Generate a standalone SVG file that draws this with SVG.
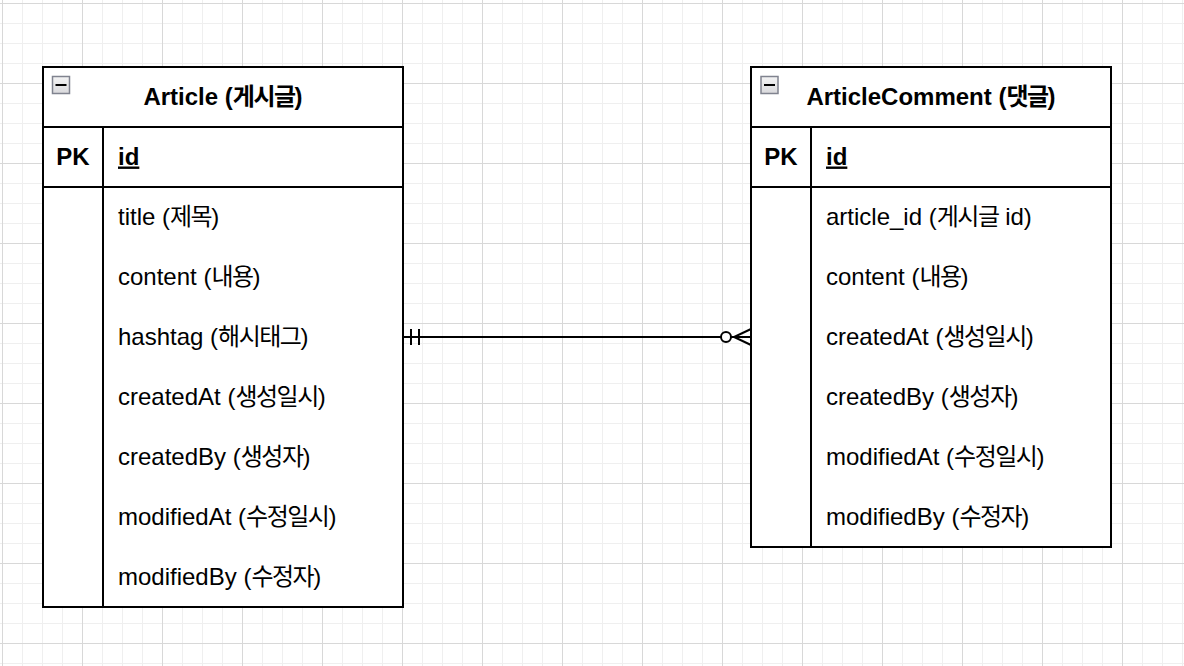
<svg xmlns="http://www.w3.org/2000/svg" width="1184" height="666" viewBox="0 0 1184 666">
<style>
.box{fill:#ffffff;stroke:#000000;stroke-width:2}
.ln{stroke:#000000;stroke-width:2;fill:none}
.t{font-family:"Liberation Sans","Noto Sans CJK KR",Arial,sans-serif;font-size:24px;fill:#000000}
.b{font-weight:bold}
.c{text-anchor:middle}
.k{letter-spacing:-1.5px}
.icon{fill:url(#ig);stroke:#80838f;stroke-width:1.5}
</style>
<defs>
<linearGradient id="ig" x1="0" y1="0" x2="0" y2="1">
<stop offset="0" stop-color="#f4f4f4"/>
<stop offset="1" stop-color="#d9d9dc"/>
</linearGradient>
<pattern id="grid" x="2" y="3" width="80" height="80" patternUnits="userSpaceOnUse">
<path d="M20.5 0V80M40.5 0V80M60.5 0V80M0 20.5H80M0 40.5H80M0 60.5H80" stroke="#efefef" stroke-width="1" fill="none"/>
<path d="M0.5 0V80M0 0.5H80" stroke="#d8d8d8" stroke-width="1" fill="none"/>
</pattern>
</defs>
<rect x="0" y="0" width="1184" height="666" fill="#ffffff"/>
<rect x="0" y="0" width="1184" height="666" fill="url(#grid)"/>

<g id="node-article">
<rect class="box" x="43" y="67" width="360" height="540"/>
<path class="ln" d="M43 127H403M43 187H403M103 127V607"/>
<rect class="icon" x="52.5" y="76.5" width="17" height="17"/>
<path d="M55.5 85H66.5" stroke="#000" stroke-width="2"/>
<text class="t b c" x="223" y="104.5">Article (<tspan class="k">게시글</tspan>)</text>
<text class="t b c" x="73" y="164.5">PK</text>
<text class="t b" x="118" y="164.5" text-decoration="underline">id</text>
<text class="t" x="118" y="224.5">title (<tspan class="k">제목</tspan>)</text>
<text class="t" x="118" y="284.5">content (<tspan class="k">내용</tspan>)</text>
<text class="t" x="118" y="344.5">hashtag (<tspan class="k">해시태그</tspan>)</text>
<text class="t" x="118" y="404.5">createdAt (<tspan class="k">생성일시</tspan>)</text>
<text class="t" x="118" y="464.5">createdBy (<tspan class="k">생성자</tspan>)</text>
<text class="t" x="118" y="524.5">modifiedAt (<tspan class="k">수정일시</tspan>)</text>
<text class="t" x="118" y="584.5">modifiedBy (<tspan class="k">수정자</tspan>)</text>
</g>

<g id="node-articlecomment">
<rect class="box" x="751" y="67" width="360" height="480"/>
<path class="ln" d="M751 127H1111M751 187H1111M811 127V547"/>
<rect class="icon" x="761" y="76.5" width="17" height="17"/>
<path d="M764 85H775" stroke="#000" stroke-width="2"/>
<text class="t b c" x="931" y="104.5">ArticleComment (<tspan class="k">댓글</tspan>)</text>
<text class="t b c" x="781" y="164.5">PK</text>
<text class="t b" x="826" y="164.5" text-decoration="underline">id</text>
<text class="t" x="826" y="224.5">article_id (<tspan class="k">게시글</tspan> id)</text>
<text class="t" x="826" y="284.5">content (<tspan class="k">내용</tspan>)</text>
<text class="t" x="826" y="344.5">createdAt (<tspan class="k">생성일시</tspan>)</text>
<text class="t" x="826" y="404.5">createdBy (<tspan class="k">생성자</tspan>)</text>
<text class="t" x="826" y="464.5">modifiedAt (<tspan class="k">수정일시</tspan>)</text>
<text class="t" x="826" y="524.5">modifiedBy (<tspan class="k">수정자</tspan>)</text>
</g>

<g id="connectors">
<path class="ln" d="M403 337H751"/>
<path class="ln" d="M411 329V345M419 329V345"/>
<path class="ln" d="M751 329L734 337L751 345"/>
<circle cx="726" cy="337" r="5" fill="#ffffff" stroke="#000000" stroke-width="2"/>
</g>
</svg>
